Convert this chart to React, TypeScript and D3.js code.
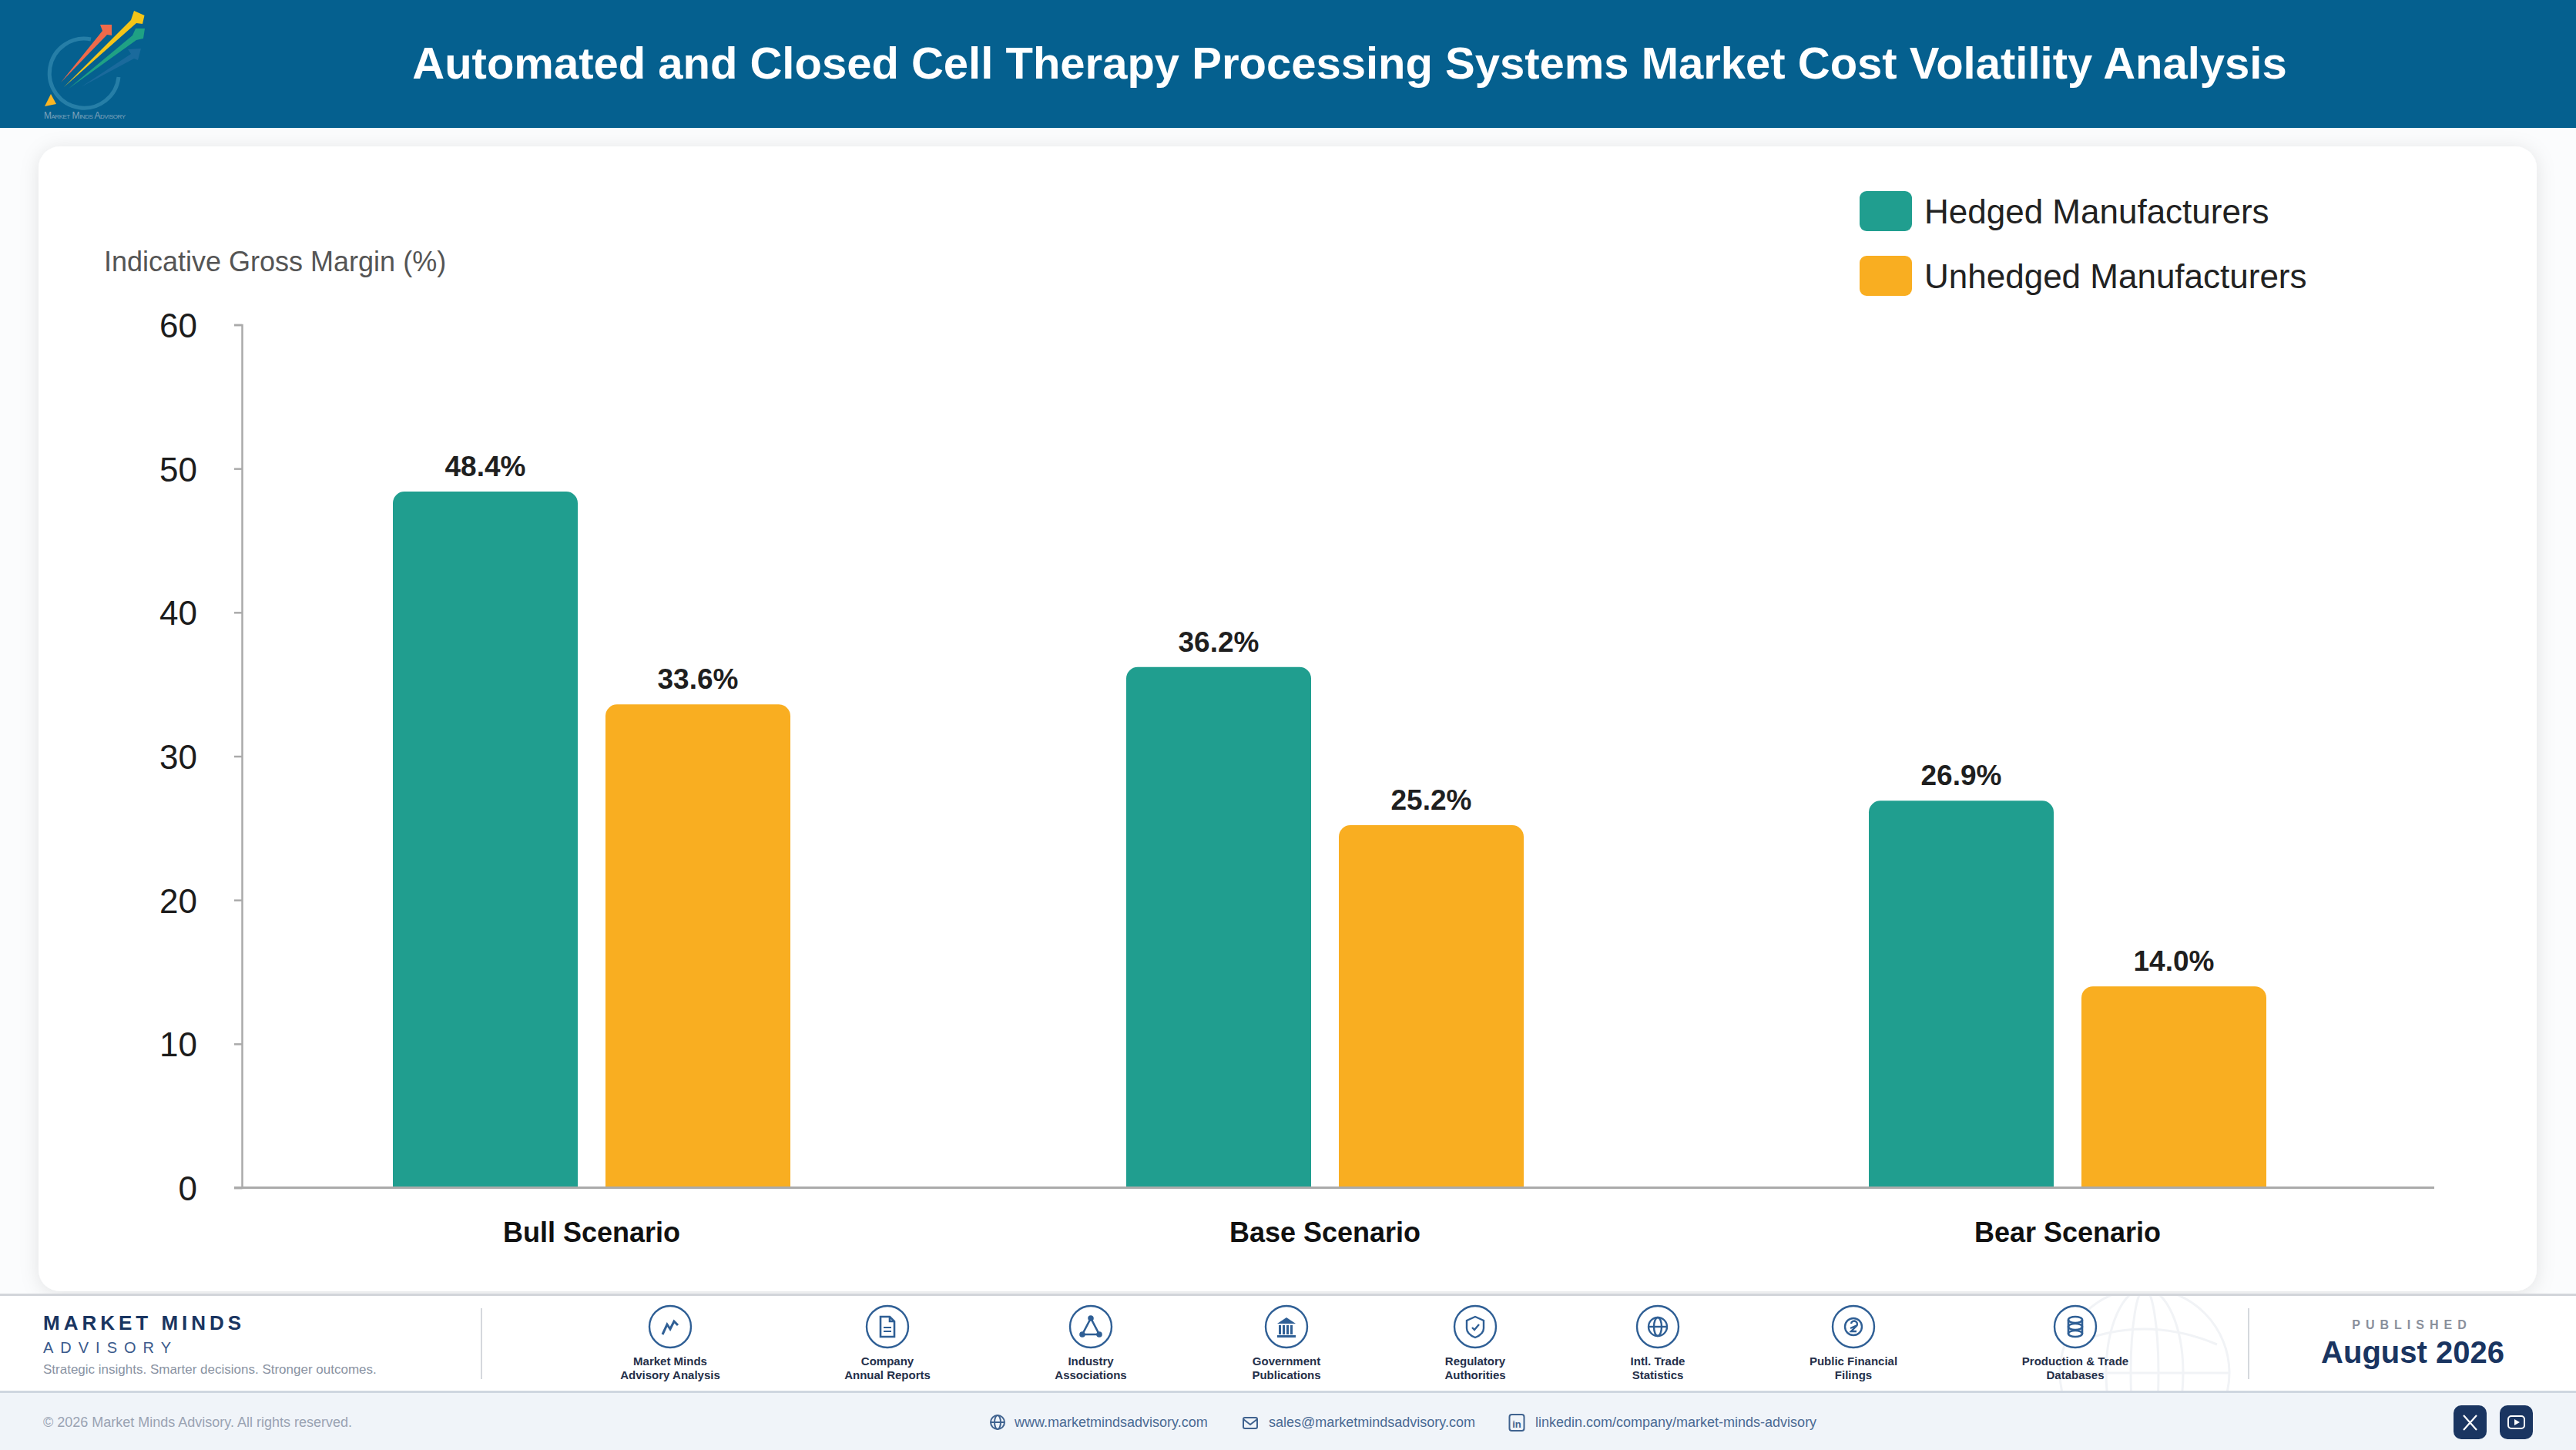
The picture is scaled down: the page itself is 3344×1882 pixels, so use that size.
import React, { useEffect, useRef } from "react";
import * as d3 from "d3";

const TITLE = "Automated and Closed Cell Therapy Processing Systems Market Cost Volatility Analysis";
const Y_TITLE = "Indicative Gross Margin (%)";
const categories = ["Bull Scenario", "Base Scenario", "Bear Scenario"];
const seriesNames = ["Hedged Manufacturers", "Unhedged Manufacturers"];
const hedged = [48.4, 36.2, 26.9];
const unhedged = [33.6, 25.2, 14.0];
const yTicks = [0, 10, 20, 30, 40, 50, 60];
const sources = [
  ["Market Minds", "Advisory Analysis"],
  ["Company", "Annual Reports"],
  ["Industry", "Associations"],
  ["Government", "Publications"],
  ["Regulatory", "Authorities"],
  ["Intl. Trade", "Statistics"],
  ["Public Financial", "Filings"],
  ["Production & Trade", "Databases"],
];
const links = ["www.marketmindsadvisory.com", "sales@marketmindsadvisory.com", "linkedin.com/company/market-minds-advisory"];

const FONT = '"Liberation Sans", Arial, sans-serif';
const TEAL = "#209E8F";
const AMBER = "#F9AE21";
const NAVY = "#1A3561";
const ICON = "#2F5F95";

const y = d3.scaleLinear().domain([0, 60]).range([1541.5, 421.5]);
const xCenter = d3.scaleOrdinal<string, number>().domain(categories).range([768, 1720, 2684]);
const srcX = d3.scaleOrdinal<string, number>().domain(sources.map((s) => s[0])).range([870, 1152, 1416, 1670, 1915, 2152, 2406, 2694]);
const OFFSET = 138;
const BAR_W = 240;
const RADIUS = 15;

function barPath(cx: number, v: number) {
  const p = d3.path();
  const l = cx - BAR_W / 2;
  const r = cx + BAR_W / 2;
  const t = y(v);
  const b = y(0);
  p.moveTo(l, b);
  p.lineTo(l, t + RADIUS);
  p.arcTo(l, t, l + RADIUS, t, RADIUS);
  p.lineTo(r - RADIUS, t);
  p.arcTo(r, t, r, t + RADIUS, RADIUS);
  p.lineTo(r, b);
  p.closePath();
  return p.toString();
}

const glyphs: React.ReactNode[] = [
  <polyline points="-10,10 -4,-3 0,3 5,-7 10,-2" fill="none" strokeWidth={3} stroke={ICON} />,
  <g fill="none" stroke={ICON} strokeWidth={2.6}>
    <path d="M-9,-13 H3 L9,-7 V13 H-9 Z" />
    <path d="M3,-13 V-7 H9" />
    <path d="M-5,1 H5 M-5,6 H5" strokeWidth={2} />
  </g>,
  <g fill={ICON} stroke={ICON} strokeWidth={2.6}>
    <path d="M0,-11 L-11,10 H11 Z" fill="none" />
    <circle cx={0} cy={-11} r={2.5} />
    <circle cx={-11} cy={10} r={2.5} />
    <circle cx={11} cy={10} r={2.5} />
  </g>,
  <g fill={ICON}>
    <path d="M0,-12 L12,-4 H-12 Z" />
    <rect x={-10} y={-2} width={3} height={12} />
    <rect x={-5} y={-2} width={3} height={12} />
    <rect x={0} y={-2} width={3} height={12} />
    <rect x={5} y={-2} width={3} height={12} />
    <rect x={-12} y={11} width={24} height={3} />
  </g>,
  <g fill="none" stroke={ICON} strokeWidth={2.4}>
    <path d="M0,-13 L11,-8 V2 C11,8 5,12 0,14 C-5,12 -11,8 -11,2 V-8 Z" />
    <path d="M-4,1 L-1,4 L5,-3" />
  </g>,
  <g fill="none" stroke={ICON} strokeWidth={2.4}>
    <circle cx={0} cy={0} r={12} />
    <ellipse cx={0} cy={0} rx={5} ry={12} />
    <path d="M-12,0 H12" />
  </g>,
  <g fill="none" stroke={ICON} strokeWidth={2.4}>
    <circle cx={0} cy={0} r={11} />
    <path d="M-3,-4 A4,4 0 1 1 3,0 L-3,6 H4 M-4,2 L5,-2" />
  </g>,
  <g fill="none" stroke={ICON} strokeWidth={2.6}>
    <ellipse cx={0} cy={-9} rx={9} ry={4} />
    <ellipse cx={0} cy={0} rx={9} ry={4} />
    <ellipse cx={0} cy={9} rx={9} ry={4} />
    <path d="M-9,-9 V9 M9,-9 V9" />
  </g>,
];

function Logo() {
  return (
    <g>
      <path d="M118,51 A45,45 0 1 0 154,100" fill="none" stroke="#2E86AD" strokeOpacity={0.8} strokeWidth={5} />
      <path d="M58,138 L66,122 L73,135 Z" fill="#FBB522" />
      <path d="M105,113 L170,70 L166,64 L183,63 L179,78 L174,76 Z" fill="#1A6A9C" />
      <path d="M89,115 L172,46 L176,37 L188,37 L186,50 L177,52 Z" fill="#1FA184" />
      <path d="M79,107 L133,40 L130,32 L145,32 L145,46 L139,45 Z" fill="#EF6A4A" />
      <path d="M83,113 L170,26 L174,14 L187.5,20 L185,31 L177,30 Z" fill="#F5C518" />
      <text x={57} y={154} fontSize={12} fill="#7FA3BC" fontFamily={FONT} style={{ fontVariant: "small-caps" }} textLength={106}>Market Minds Advisory</text>
    </g>
  );
}

export default function App() {
  const axisRef = useRef<SVGGElement | null>(null);
  useEffect(() => {
    document.body.style.margin = "0";
    if (!axisRef.current) return;
    const g = d3.select(axisRef.current);
    g.call(d3.axisLeft(y).tickValues(yTicks).tickSize(10).tickPadding(48).tickFormat(d3.format("d")) as any);
    g.selectAll("path").attr("stroke", "#AAAAAA").attr("stroke-width", 2.5);
    g.selectAll("line").attr("stroke", "#AAAAAA").attr("stroke-width", 2.5);
    g.selectAll("text").attr("font-size", 44).attr("font-family", FONT).attr("fill", "#1c1c1c").attr("dy", "0.36em");
  }, []);

  const footTop = 1681;
  const footMid = 1806;

  return (
    <svg width={3344} height={1882} viewBox="0 0 3344 1882" style={{ position: "absolute", left: 0, top: 0, display: "block" }} fontFamily={FONT}>
      <defs>
        <filter id="cardShadow" x="-5%" y="-5%" width="110%" height="110%">
          <feDropShadow dx={0} dy={3} stdDeviation={12} floodColor="#000" floodOpacity={0.1} />
        </filter>
        <clipPath id="globeClip">
          <rect x={2600} y={footTop + 1} width={400} height={footMid - footTop - 1} />
        </clipPath>
      </defs>
      <rect x={0} y={0} width={3344} height={1882} fill="#FBFCFD" />
      <rect x={0} y={0} width={3344} height={166} fill="#05608F" />
      <Logo />
      <text x={1752} y={102} textAnchor="middle" fontSize={58} fontWeight={700} fill="#fff">{TITLE}</text>

      <rect x={50} y={190} width={3243} height={1486} rx={28} fill="#fff" filter="url(#cardShadow)" />

      <text x={135} y={352} fontSize={36} fill="#555">{Y_TITLE}</text>

      {seriesNames.map((s, i) => (
        <g key={s}>
          <rect x={2414} y={248 + i * 84} width={68} height={52} rx={9} fill={i === 0 ? TEAL : AMBER} />
          <text x={2498} y={290 + i * 84} fontSize={44} fill="#222">{s}</text>
        </g>
      ))}

      {categories.map((c, i) => {
        const cx = xCenter(c);
        return (
          <g key={c}>
            <path d={barPath(cx - OFFSET, hedged[i])} fill={TEAL} />
            <path d={barPath(cx + OFFSET, unhedged[i])} fill={AMBER} />
            <text x={cx - OFFSET} y={y(hedged[i]) - 20} textAnchor="middle" fontSize={37} fontWeight={700} fill="#1f1f1f">{hedged[i].toFixed(1)}%</text>
            <text x={cx + OFFSET} y={y(unhedged[i]) - 20} textAnchor="middle" fontSize={37} fontWeight={700} fill="#1f1f1f">{unhedged[i].toFixed(1)}%</text>
            <text x={cx} y={1612} textAnchor="middle" fontSize={36} fontWeight={700} fill="#111">{c}</text>
          </g>
        );
      })}
      <g ref={axisRef} transform="translate(314,0)" />
      <line x1={304} x2={3160} y1={y(0)} y2={y(0)} stroke="#AAAAAA" strokeWidth={3} />

      {/* footer */}
      <rect x={0} y={footTop} width={3344} height={footMid - footTop} fill="#fff" />
      <g clipPath="url(#globeClip)" fill="none" stroke="#F1F3F6" strokeWidth={3}>
        <circle cx={2784} cy={1782} r={110} />
        <ellipse cx={2784} cy={1782} rx={50} ry={110} />
        <ellipse cx={2784} cy={1782} rx={18} ry={110} />
        <path d="M2674,1782 H2894" />
        <path d="M2690,1745 Q2784,1705 2878,1745" />
        <path d="M2665,1830 Q2784,1810 2903,1830" />
      </g>
      <rect x={0} y={footTop - 2} width={3344} height={3} fill="#D2D5DA" />
      <rect x={0} y={footMid} width={3344} height={76} fill="#F0F4F9" />
      <rect x={0} y={footMid - 1} width={3344} height={3} fill="#CFD6E0" />

      <text x={56} y={1726} fontSize={26} fontWeight={700} letterSpacing={5} fill={NAVY}>MARKET MINDS</text>
      <text x={56} y={1756} fontSize={20} letterSpacing={9} fill="#3A5A8C">ADVISORY</text>
      <text x={56} y={1783} fontSize={17} fill="#8A93A3">Strategic insights. Smarter decisions. Stronger outcomes.</text>
      <line x1={625} x2={625} y1={1698} y2={1790} stroke="#D5D8DD" strokeWidth={2} />
      <line x1={2919} x2={2919} y1={1698} y2={1790} stroke="#D5D8DD" strokeWidth={2} />

      {sources.map((s, i) => {
        const cx = srcX(s[0]);
        return (
          <g key={s[0]}>
            <g transform={`translate(${cx},1722)`}>
              <circle r={27} fill="#fff" stroke={ICON} strokeWidth={2.4} />
              {glyphs[i]}
            </g>
            <text x={cx} y={1772} textAnchor="middle" fontSize={15} fontWeight={700} fill="#25304A">{s[0]}</text>
            <text x={cx} y={1789.5} textAnchor="middle" fontSize={15} fontWeight={700} fill="#25304A">{s[1]}</text>
          </g>
        );
      })}

      <text x={3131} y={1725} textAnchor="middle" fontSize={16} fontWeight={700} letterSpacing={7} fill="#8A909C">PUBLISHED</text>
      <text x={3132} y={1769} textAnchor="middle" fontSize={40} fontWeight={700} fill={NAVY}>August 2026</text>

      <text x={56} y={1852} fontSize={18} fill="#9AA3B3">© 2026 Market Minds Advisory. All rights reserved.</text>
      <g fill="none" stroke="#3F628F" strokeWidth={2}>
        <circle cx={1295} cy={1846} r={9} />
        <ellipse cx={1295} cy={1846} rx={4} ry={9} />
        <path d="M1286,1846 H1304" />
        <rect x={1614} y={1840} width={18} height={14} rx={2} />
        <path d="M1614,1842 L1623,1849 L1632,1842" />
        <rect x={1959.5} y={1836} width={19} height={21} rx={3} />
      </g>
      <text x={1969} y={1853} textAnchor="middle" fontSize={13} fontWeight={700} fill="#3F628F">in</text>
      <text x={1317} y={1852} fontSize={18} fill="#4A6A94">{links[0]}</text>
      <text x={1647} y={1852} fontSize={18} fill="#4A6A94">{links[1]}</text>
      <text x={1993} y={1852} fontSize={18} fill="#4A6A94">{links[2]}</text>

      <rect x={3185} y={1824} width={43} height={44} rx={10} fill={NAVY} />
      <path d="M3198,1837 L3215,1856 M3215,1837 L3198,1856" stroke="#fff" strokeWidth={2.2} />
      <rect x={3245} y={1824} width={43} height={44} rx={10} fill={NAVY} />
      <rect x={3256} y={1838} width={21} height={16} rx={4} fill="none" stroke="#fff" strokeWidth={2} />
      <path d="M3264,1842 L3271,1846 L3264,1850 Z" fill="#fff" />
    </svg>
  );
}
